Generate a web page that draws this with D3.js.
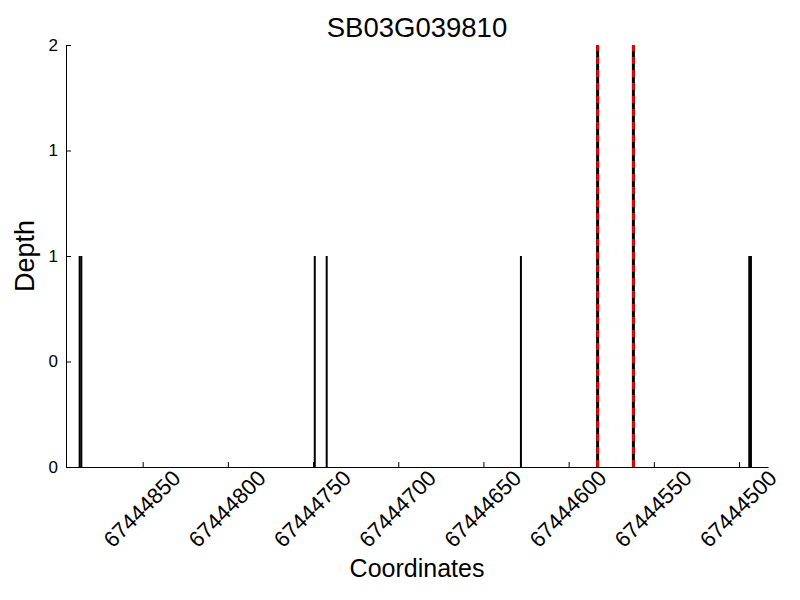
<!DOCTYPE html>
<html>
<head>
<meta charset="utf-8">
<script src="https://cdn.jsdelivr.net/npm/d3@7"></script>
<style>
  body { margin: 0; background: #fff; }
  svg text { font-family: "Liberation Sans", Arial, sans-serif; fill: #000; }
</style>
</head>
<body>
<div id="chart"></div>
<script>
// Gene name shown as title
var geneName = "SB03G039810";

// Read depth positions (coordinates) and their depth
var positions = [67444887, 67444886, 67444749, 67444742, 67444628, 67444583, 67444562, 67444494, 67444493];
var depths = [1, 1, 1, 1, 1, 2, 2, 1, 1];

// Marked positions (red dashed)
var markedPositions = [67444583, 67444562];

// Axis ticks
var xTicks = [67444850, 67444800, 67444750, 67444700, 67444650, 67444600, 67444550, 67444500];
var yTicks = [0, 0.5, 1, 1.5, 2];

// Dimensions
var width = 800,
    height = 600,
    margin = { top: 45, right: 32, bottom: 133, left: 66 };

var svg = d3.select("#chart")
    .append("svg")
    .attr("width", width)
    .attr("height", height);

// Scales (x axis runs from high to low coordinates)
var x = d3.scaleLinear()
    .domain([67444895, 67444483])
    .range([margin.left, width - margin.right]);

var y = d3.scaleLinear()
    .domain([0, 2])
    .range([height - margin.bottom, margin.top]);

// Depth lines
var bars = positions.map(function (p, i) { return { pos: p, depth: depths[i] }; });

svg.selectAll(".depth-line")
    .data(bars)
    .enter()
    .append("line")
    .attr("class", "depth-line")
    .attr("x1", function (d) { return x(d.pos); })
    .attr("x2", function (d) { return x(d.pos); })
    .attr("y1", y(0))
    .attr("y2", function (d) { return y(d.depth); })
    .attr("stroke", "#000")
    .attr("stroke-width", function (d) { return markedPositions.indexOf(d.pos) >= 0 ? 3 : 2; });

// Red dashed markers on top
svg.selectAll(".mark-line")
    .data(markedPositions)
    .enter()
    .append("line")
    .attr("class", "mark-line")
    .attr("x1", function (d) { return x(d); })
    .attr("x2", function (d) { return x(d); })
    .attr("y1", y(0))
    .attr("y2", y(2))
    .attr("stroke", "#ff0000")
    .attr("stroke-width", 2.5)
    .attr("stroke-dasharray", "7,6");

// X axis, ticks pointing inward
var xAxis = svg.append("g")
    .attr("transform", "translate(0," + y(0) + ")")
    .call(d3.axisBottom(x).tickValues(xTicks).tickSizeInner(-5).tickSizeOuter(0).tickFormat(d3.format("d")));

xAxis.select(".domain").attr("stroke", "#000");
xAxis.selectAll("text")
    .attr("font-size", 22)
    .attr("text-anchor", "middle")
    .attr("dy", null)
    .attr("y", null)
    .attr("dominant-baseline", "middle")
    .attr("transform", "translate(0,43) rotate(-45)");

// Y axis, labels truncated to integers
var yAxis = svg.append("g")
    .attr("transform", "translate(" + margin.left + ",0)")
    .call(d3.axisLeft(y).tickValues(yTicks).tickSizeInner(-5).tickSizeOuter(0)
        .tickPadding(8)
        .tickFormat(function (d) { return Math.floor(d); }));

yAxis.select(".domain").attr("stroke", "#000");
yAxis.selectAll("text").attr("font-size", 17);

// Title
svg.append("text")
    .attr("x", (margin.left + width - margin.right) / 2)
    .attr("y", 37)
    .attr("text-anchor", "middle")
    .attr("font-size", 27.5)
    .text(geneName);

// Axis labels
svg.append("text")
    .attr("x", (margin.left + width - margin.right) / 2)
    .attr("y", 577)
    .attr("text-anchor", "middle")
    .attr("font-size", 25)
    .text("Coordinates");

svg.append("text")
    .attr("transform", "translate(34," + (y(1)) + ") rotate(-90)")
    .attr("text-anchor", "middle")
    .attr("font-size", 27)
    .text("Depth");
</script>
</body>
</html>
